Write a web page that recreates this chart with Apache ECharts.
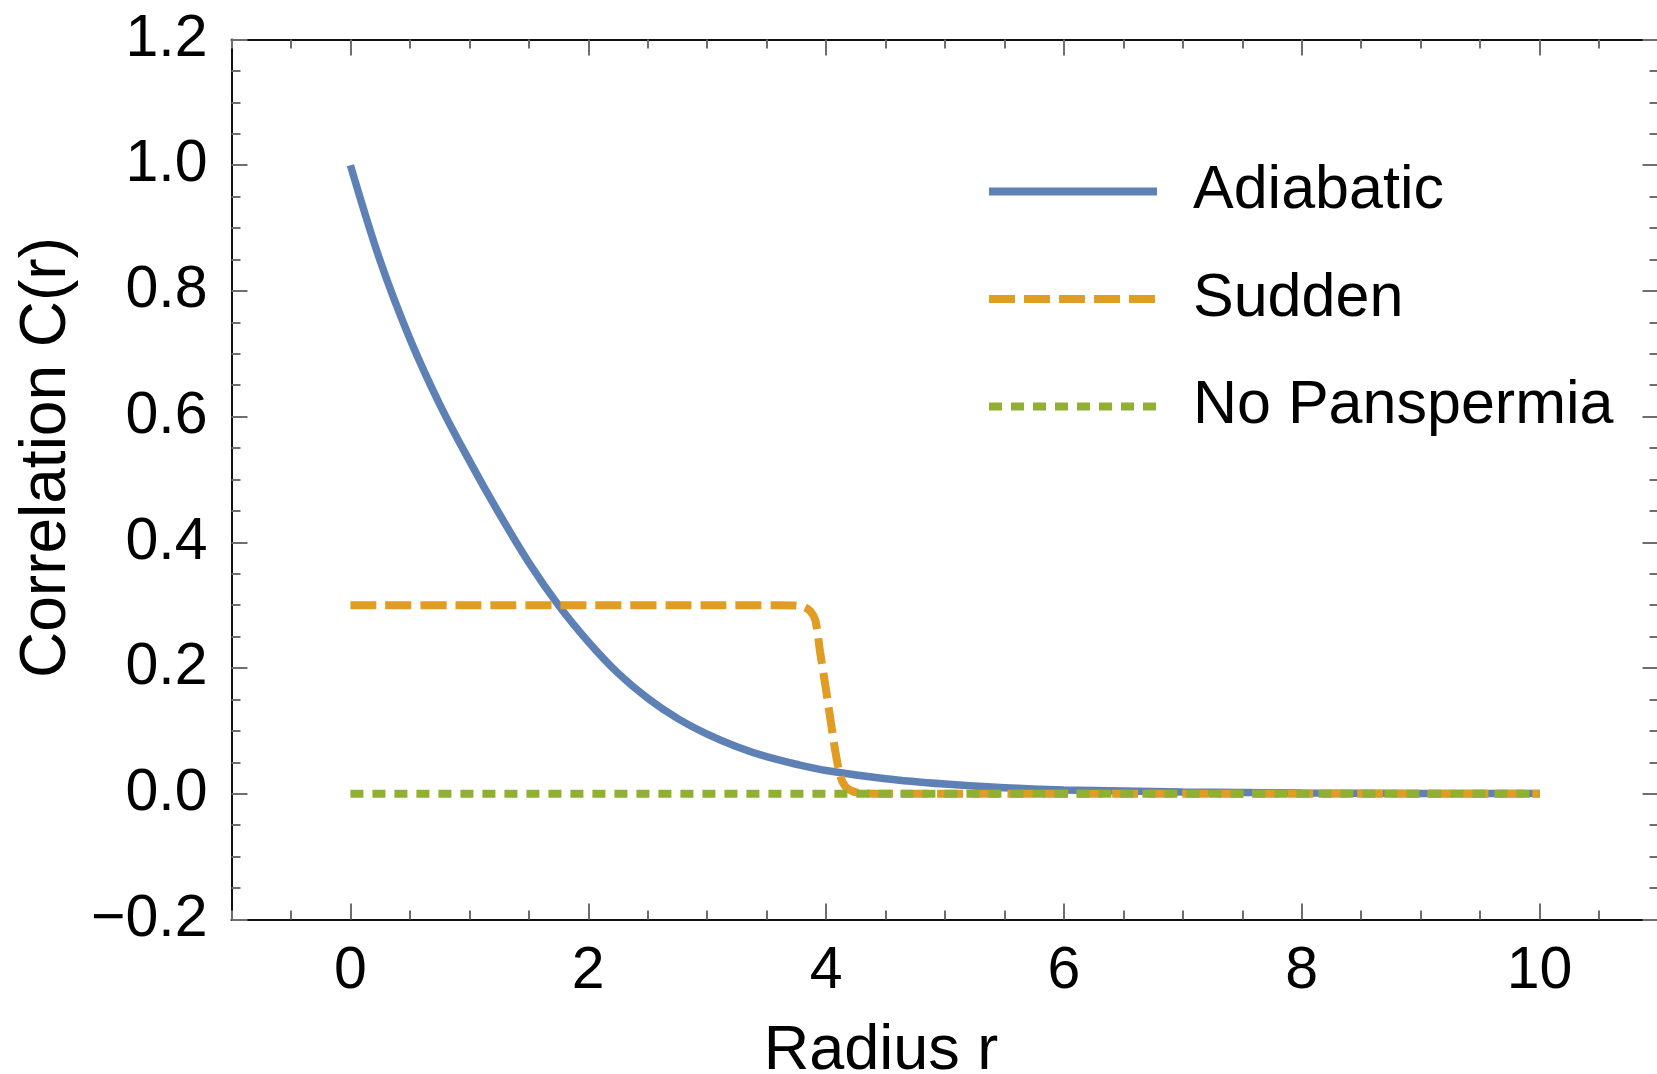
<!DOCTYPE html>
<html>
<head>
<meta charset="utf-8">
<script src="https://cdn.jsdelivr.net/npm/echarts@6/dist/echarts.min.js"></script>
<style>
  html, body { margin: 0; padding: 0; background: #ffffff; }
  #chart { width: 1657px; height: 1074px; }
</style>
</head>
<body>
<div id="chart"></div>
<script>
// Tick labels
const xTickValues = [0, 2, 4, 6, 8, 10];
const yTickValues = [-0.2, 0, 0.2, 0.4, 0.6, 0.8, 1.0, 1.2];

// Series names
const seriesNames = ['Adiabatic', 'Sudden', 'No Panspermia'];

// Adiabatic correlation C(r)
const adiabaticR = [0, 0.25, 0.5, 0.75, 1.0, 1.25, 1.5, 1.75, 2.0, 2.25, 2.5, 2.75, 3.0, 3.25, 3.5, 3.75, 4.0, 4.5, 5.0, 5.5, 6.0, 7.0, 8.0, 9.0, 10.0];
const adiabaticC = [1.0, 0.848, 0.724, 0.620, 0.530, 0.446, 0.368, 0.300, 0.242, 0.192, 0.152, 0.120, 0.095, 0.075, 0.059, 0.047, 0.037, 0.024, 0.0155, 0.0095, 0.0062, 0.0028, 0.0013, 0.0006, 0.0003];

// Sudden correlation C(r)
const suddenR = [0, 1, 2, 3, 3.6, 3.75, 3.82, 3.87, 3.91, 3.95, 4.0, 4.04, 4.08, 4.12, 4.16, 4.21, 4.27, 4.35, 4.5, 6, 8, 10];
const suddenC = [0.3, 0.3, 0.3, 0.3, 0.3, 0.2995, 0.297, 0.29, 0.276, 0.225, 0.165, 0.114, 0.065, 0.028, 0.012, 0.005, 0.0015, 0.0003, 0, 0, 0, 0];

// No panspermia: zero correlation
const noPanspermiaR = [0, 10];
const noPanspermiaC = [0, 0];

const zip = (xs, ys) => xs.map((x, i) => [x, ys[i]]);

const FONT = "'Liberation Sans', Arial, Helvetica, sans-serif";
const FRAME = '#111111';
const TICK = '#6e6e6e';
const COLORS = ['#5E81B5', '#E19C24', '#8FB032'];

// Both grids share one rectangle: grid 0 carries the frame, major ticks and data,
// grid 1 only the minor ticks.
const gridBox = { left: 231.5, top: 39.5, right: -1.5, bottom: 154.5, outerBoundsMode: 'none', containLabel: false };

const chart = echarts.init(document.getElementById('chart'), null, { renderer: 'canvas' });

const majorX = (pos, withLabels) => ({
  type: 'value', gridIndex: 0, position: pos, min: -1, max: 11,
  axisLine: { show: true, onZero: false, lineStyle: { color: FRAME, width: 2 } },
  axisTick: { show: true, inside: true, length: 16, customValues: xTickValues, lineStyle: { color: TICK, width: 2 } },
  axisLabel: withLabels
    ? { show: true, customValues: xTickValues, margin: 23, fontSize: 59, fontFamily: FONT, color: '#000' }
    : { show: false },
  splitLine: { show: false }
});

const majorY = (pos, withLabels) => ({
  type: 'value', gridIndex: 0, position: pos, min: -0.2, max: 1.2,
  axisLine: { show: true, onZero: false, lineStyle: { color: FRAME, width: 2 } },
  axisTick: { show: true, inside: true, length: 16, customValues: yTickValues, lineStyle: { color: TICK, width: 2 } },
  axisLabel: withLabels
    ? { show: true, customValues: yTickValues, margin: 24, fontSize: 59, fontFamily: FONT, color: '#000',
        formatter: v => v.toFixed(1).replace('-', '\u2212') }
    : { show: false },
  splitLine: { show: false }
});

const minorX = (pos) => ({
  type: 'value', gridIndex: 1, position: pos, min: -1, max: 11, interval: 0.5,
  axisLine: { show: false, onZero: false },
  axisTick: { show: true, inside: true, length: 9, lineStyle: { color: TICK, width: 2 } },
  axisLabel: { show: false },
  splitLine: { show: false }
});

const minorY = (pos) => ({
  type: 'value', gridIndex: 1, position: pos, min: -0.2, max: 1.2, interval: 0.05,
  axisLine: { show: false, onZero: false },
  axisTick: { show: true, inside: true, length: 9, lineStyle: { color: TICK, width: 2 } },
  axisLabel: { show: false },
  splitLine: { show: false }
});

const xBottom = majorX('bottom', true);
xBottom.name = 'Radius r';
xBottom.nameLocation = 'middle';
xBottom.nameGap = 101;
xBottom.nameTextStyle = { fontSize: 63, fontFamily: FONT, color: '#000', padding: [0, 128, 0, 0] };

const yLeft = majorY('left', true);
yLeft.name = 'Correlation C(r)';
yLeft.nameLocation = 'middle';
yLeft.nameGap = 152;
yLeft.nameTextStyle = { fontSize: 64, fontFamily: FONT, color: '#000', padding: [0, 0, 0, 44] };

const option = {
  backgroundColor: '#ffffff',
  animation: false,
  color: COLORS,
  textStyle: { fontFamily: FONT },
  grid: [
    Object.assign({}, gridBox),
    Object.assign({}, gridBox)
  ],
  xAxis: [xBottom, majorX('top', false), minorX('bottom'), minorX('top')],
  yAxis: [yLeft, majorY('right', false), minorY('left'), minorY('right')],
  legend: {
    data: seriesNames,
    orient: 'vertical',
    left: 980,
    top: 156,
    itemWidth: 168,
    itemHeight: 10,
    itemGap: 46.5,
    itemStyle: { opacity: 0, borderWidth: 0 },
    lineStyle: { width: 8, cap: 'butt' },
    textStyle: { fontSize: 61, fontFamily: FONT, color: '#000', lineHeight: 60, padding: [0, 0, 0, 31] },
    selectedMode: false
  },
  series: [
    {
      name: seriesNames[0], type: 'line', xAxisIndex: 0, yAxisIndex: 0,
      data: zip(adiabaticR, adiabaticC), smooth: 0.35, symbol: 'none',
      lineStyle: { color: COLORS[0], width: 7.5, cap: 'butt' }, z: 2
    },
    {
      name: seriesNames[1], type: 'line', xAxisIndex: 0, yAxisIndex: 0,
      data: zip(suddenR, suddenC), smooth: 0.3, symbol: 'none',
      lineStyle: { color: COLORS[1], width: 8, type: [26, 9], cap: 'butt' }, z: 3
    },
    {
      name: seriesNames[2], type: 'line', xAxisIndex: 0, yAxisIndex: 0,
      data: zip(noPanspermiaR, noPanspermiaC), symbol: 'none',
      lineStyle: { color: COLORS[2], width: 8, type: [13, 9], cap: 'butt' }, z: 4
    }
  ]
};

chart.setOption(option);
</script>
</body>
</html>
